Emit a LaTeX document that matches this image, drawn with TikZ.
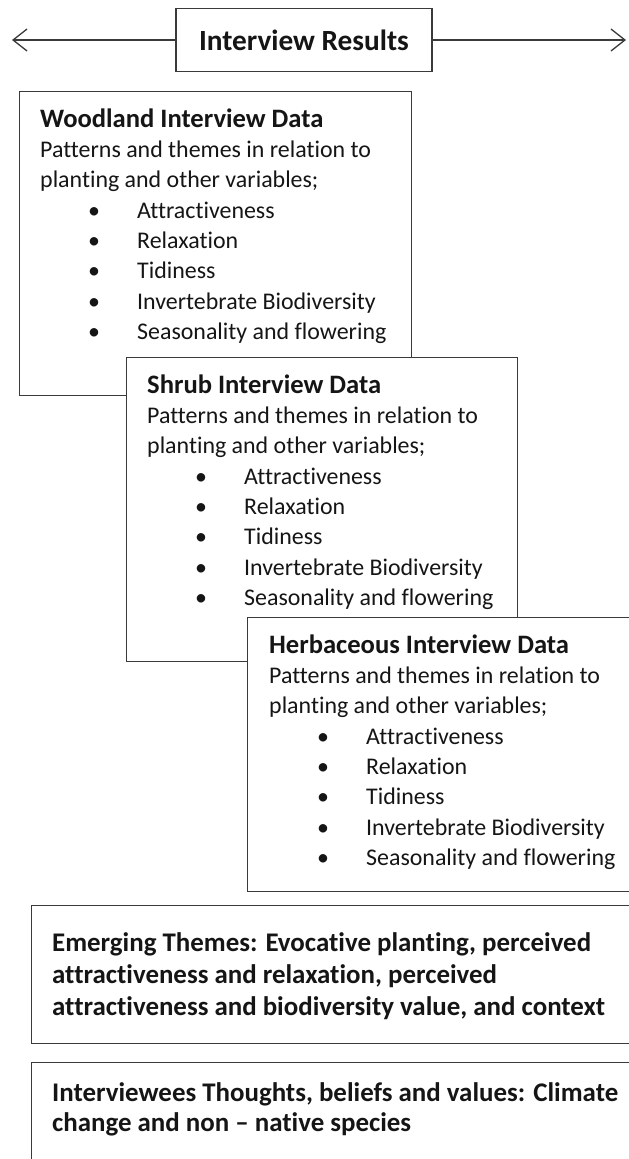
\documentclass[tikz,border=0pt]{standalone}
\usepackage{fontspec}
\setmainfont{Carlito}[Ligatures=NoCommon]
\usetikzlibrary{arrows.meta}
\definecolor{edgegray}{HTML}{3A3A3A}
\definecolor{inkblack}{HTML}{151515}
\tikzset{
    plain-box/.style = {draw=edgegray, fill=white, line width=1.3bp, rectangle, inner sep=0pt, anchor=north west},
    box-text/.style = {inner sep=0pt, anchor=base west, text=inkblack, font=\fontsize{24}{30.5}\selectfont},
    theme-text/.style = {inner sep=0pt, anchor=base west, text=inkblack, font=\fontsize{27}{32.5}\selectfont\bfseries},
    side-arrow/.style = {draw=edgegray, line width=1.3bp, -{Straight Barb[length=14bp,width=22bp,line width=1.3bp]}},
}
\newcommand{\planttopic}[1]{\par\hspace*{48bp}\makebox[49bp][l]{\textbullet}#1}
\newcommand{\interviewdata}[1]{%
    {\fontsize{26.7}{30.5}\selectfont\bfseries #1 Interview Data}\newline
    Patterns and themes in relation to\newline
    planting and other variables;
    \planttopic{Attractiveness}
    \planttopic{Relaxation}
    \planttopic{Tidiness}
    \planttopic{Invertebrate Biodiversity}
    \planttopic{Seasonality and flowering}}

\begin{document}
\begin{tikzpicture}[x=1bp, y=-1bp]
\clip (0,0) rectangle (629,1159);
\fill[white] (0,0) rectangle (629,1159);

% title with arrows
\node[plain-box, anchor=center, minimum width=256bp, minimum height=63bp, text=inkblack, font=\fontsize{29.4}{35}\selectfont\bfseries] (header) at (304,40) {Interview Results};
\coordinate (left-end) at (12,40);
\coordinate (right-end) at (626,40);
\draw[side-arrow] (header.west) -- (left-end);
\draw[side-arrow] (header.east) -- (right-end);

% the three overlapping boxes
\node[plain-box, minimum width=392bp, minimum height=304bp] (woodland) at (19,91) {};
\node[box-text] (woodland-text) at ([shift={(21,36)}]woodland.north west) {\begin{minipage}[t]{370bp}\interviewdata{Woodland}\end{minipage}};

\node[plain-box, minimum width=391bp, minimum height=304bp] (shrub) at (126,357) {};
\node[box-text] (shrub-text) at ([shift={(21,36)}]shrub.north west) {\begin{minipage}[t]{370bp}\interviewdata{Shrub}\end{minipage}};

\node[plain-box, minimum width=400bp, minimum height=274bp] (herbaceous) at (247,617) {};
\node[box-text] (herbaceous-text) at ([shift={(22,36)}]herbaceous.north west) {\begin{minipage}[t]{370bp}\interviewdata{Herbaceous}\end{minipage}};

% themes
\node[plain-box, minimum width=620bp, minimum height=138bp] (emerging) at (31,905) {};
\node[theme-text] (emerging-text) at ([shift={(21,46)}]emerging.north west) {\begin{minipage}[t]{590bp}
Emerging Themes: Evocative planting, perceived\newline
attractiveness and relaxation, perceived\newline
attractiveness and biodiversity value, and context\end{minipage}};

\node[plain-box, minimum width=620bp, minimum height=140bp] (beliefs) at (31,1062) {};
\node[theme-text, font=\fontsize{27}{30.5}\selectfont\bfseries] (beliefs-text) at ([shift={(21,39)}]beliefs.north west) {\begin{minipage}[t]{590bp}
Interviewees Thoughts, beliefs and values: Climate\newline
change and non -- native species\end{minipage}};
\end{tikzpicture}
\end{document}
